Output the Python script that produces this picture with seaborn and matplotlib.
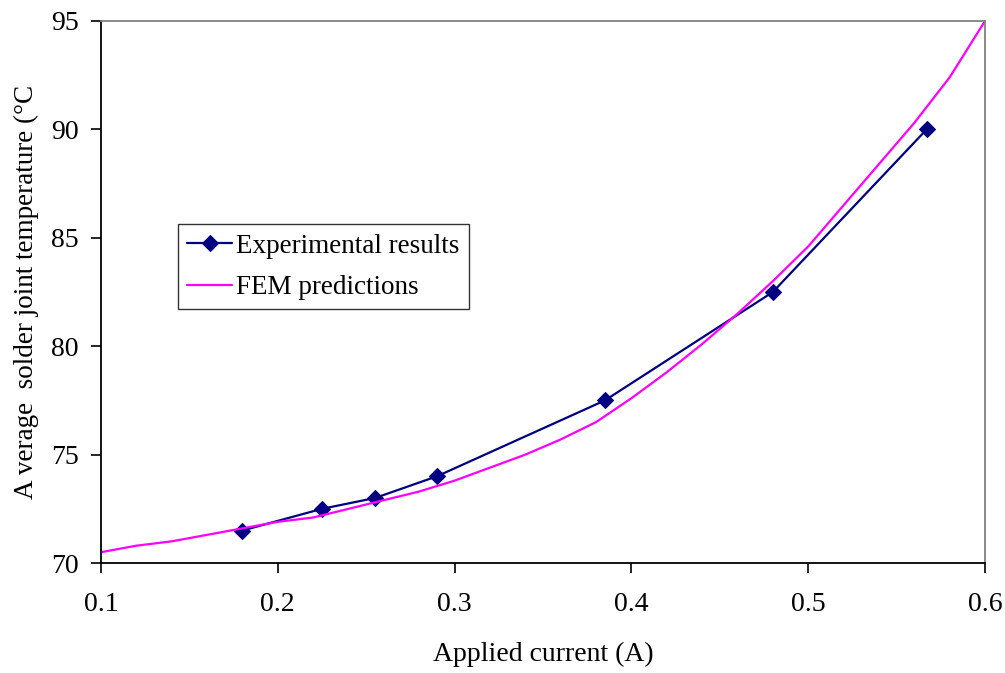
import matplotlib
matplotlib.use("Agg")
import matplotlib.pyplot as plt
import seaborn as sns
import pandas as pd

exp_current = [0.18, 0.225, 0.255, 0.29, 0.385, 0.48, 0.567]
exp_temp = [71.5, 72.5, 73.0, 74.0, 77.5, 82.5, 90.0]

fem_current = [0.10, 0.12, 0.14, 0.16, 0.18, 0.20, 0.22, 0.24, 0.26, 0.28, 0.30,
               0.32, 0.34, 0.36, 0.38, 0.40, 0.42, 0.44, 0.46, 0.48, 0.50,
               0.52, 0.54, 0.56, 0.58, 0.60]
fem_temp = [70.5, 70.8, 71.0, 71.3, 71.6, 71.9, 72.1, 72.5, 72.9, 73.3, 73.8,
            74.4, 75.0, 75.7, 76.5, 77.6, 78.8, 80.1, 81.5, 83.0, 84.6,
            86.5, 88.4, 90.3, 92.4, 95.0]

x_ticks = [0.1, 0.2, 0.3, 0.4, 0.5, 0.6]
x_tick_labels = ["0.1", "0.2", "0.3", "0.4", "0.5", "0.6"]
y_ticks = [70, 75, 80, 85, 90, 95]

sns.set_style("white")
plt.rcParams['font.family'] = ['Liberation Serif', 'DejaVu Serif']
plt.rcParams['text.color'] = 'black'
plt.rcParams['axes.labelcolor'] = 'black'
plt.rcParams['xtick.color'] = 'black'
plt.rcParams['ytick.color'] = 'black'

fig = plt.figure(figsize=(10.05, 6.73), dpi=100)
ax = fig.add_axes([0.1005, 0.1634, 0.8796, 0.8054])

exp_df = pd.DataFrame({"x": exp_current, "y": exp_temp})
fem_df = pd.DataFrame({"x": fem_current, "y": fem_temp})

sns.lineplot(data=exp_df, x="x", y="y", ax=ax, color="#000080", lw=1.6,
             marker="D", markersize=8.5, markeredgecolor="#000080",
             label="Experimental results", sort=False)
sns.lineplot(data=fem_df, x="x", y="y", ax=ax, color="#FF00FF", lw=1.6,
             label="FEM predictions", sort=False)

ax.set_xlim(0.1, 0.6)
ax.set_ylim(70, 95)
ax.set_xticks(x_ticks)
ax.set_xticklabels(x_tick_labels)
ax.set_yticks(y_ticks)
ax.tick_params(axis="both", labelsize=20, direction="out", length=7, width=1.2,
               color="black", left=True, bottom=True)
ax.tick_params(axis="y", pad=9)
ax.tick_params(axis="x", pad=14)
ax.set_xlabel("Applied current (A)", fontsize=20, labelpad=18)
ax.set_ylabel("A verage  solder joint temperature (°C", fontsize=19.5, labelpad=9)

for s in ["left", "bottom"]:
    ax.spines[s].set_color("black")
    ax.spines[s].set_linewidth(1.3)
for s in ["top", "right"]:
    ax.spines[s].set_color("#808080")
    ax.spines[s].set_linewidth(1.3)

leg = ax.legend(loc="upper left", bbox_to_anchor=(0.087, 0.625), fontsize=19.5,
                frameon=True, fancybox=False, edgecolor="black", handlelength=1.65,
                handletextpad=0.15, borderpad=0.35, borderaxespad=0,
                labelspacing=0.6)
leg.get_frame().set_linewidth(1.0)

fig.savefig("out.png", dpi=100)
